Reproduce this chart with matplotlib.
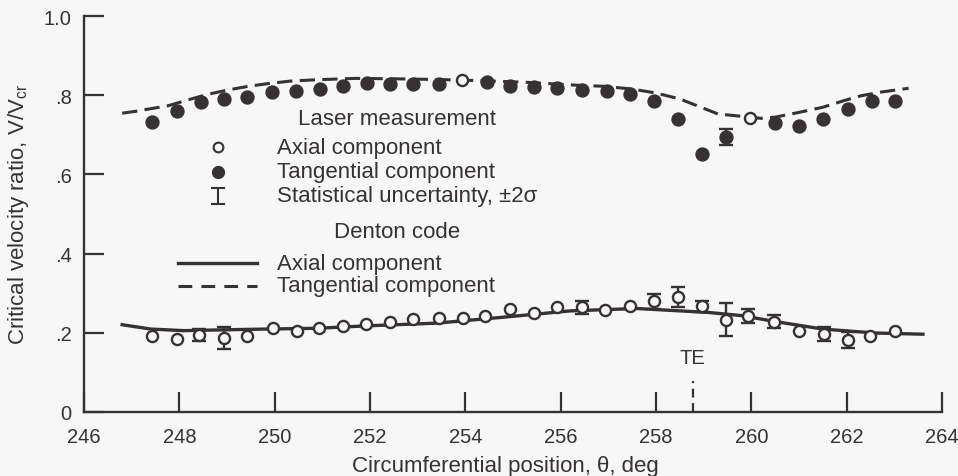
import matplotlib
matplotlib.use("Agg")
import matplotlib.pyplot as plt

plt.rcParams['font.family'] = ['Liberation Sans', 'DejaVu Sans']

INK = '#363233'
BG = '#f7f7f7'

# Laser measurement - tangential component (filled)
tan_x = [247.43, 247.96, 248.46, 248.94, 249.42, 249.94, 250.45, 250.95, 251.44, 251.93,
         252.42, 252.90, 253.44, 254.45, 254.94, 255.43, 255.92, 256.45, 256.97, 257.46,
         257.95, 258.47, 258.96, 259.47, 260.50, 260.99, 261.50, 262.03, 262.53, 263.02]
tan_y = [0.732, 0.761, 0.784, 0.791, 0.797, 0.808, 0.810, 0.816, 0.824, 0.831,
         0.829, 0.829, 0.829, 0.834, 0.824, 0.820, 0.818, 0.814, 0.810, 0.803,
         0.785, 0.740, 0.652, 0.694, 0.730, 0.722, 0.740, 0.766, 0.787, 0.787]
# tangential points drawn open
tan_open_x = [253.94, 259.98]
tan_open_y = [0.840, 0.743]
# tangential uncertainty
tan_err_x = [259.47]
tan_err_y = [0.694]
tan_err = [0.020]

# Laser measurement - axial component (open)
ax_x = [247.43, 247.95, 248.41, 248.94, 249.41, 249.96, 250.46, 250.93, 251.44, 251.92,
        252.42, 252.90, 253.44, 253.95, 254.42, 254.94, 255.44, 255.92, 256.45, 256.93,
        257.46, 257.96, 258.47, 258.96, 259.47, 259.94, 260.48, 260.99, 261.52, 262.02,
        262.48, 263.02]
ax_y = [0.192, 0.184, 0.194, 0.186, 0.191, 0.212, 0.205, 0.211, 0.216, 0.222,
        0.228, 0.234, 0.236, 0.236, 0.243, 0.260, 0.249, 0.264, 0.264, 0.258,
        0.268, 0.279, 0.290, 0.267, 0.233, 0.243, 0.228, 0.203, 0.196, 0.182,
        0.192, 0.203]
# axial uncertainty (x, y, +-)
ax_err_x = [248.41, 248.94, 256.45, 257.96, 258.47, 258.96, 259.47, 259.94, 260.48, 261.52, 262.02]
ax_err_y = [0.194, 0.186, 0.264, 0.279, 0.290, 0.267, 0.233, 0.243, 0.228, 0.196, 0.182]
ax_err = [0.015, 0.027, 0.016, 0.018, 0.026, 0.014, 0.042, 0.018, 0.017, 0.017, 0.020]

# Denton code - axial component
den_ax_x = [246.8, 247.4, 248.1, 248.9, 249.8, 250.9, 251.9, 253.4, 254.8, 256.2,
            257.6, 259.1, 259.8, 260.5, 261.5, 262.6, 263.6]
den_ax_y = [0.220, 0.209, 0.205, 0.207, 0.209, 0.211, 0.217, 0.224, 0.239, 0.255,
            0.261, 0.251, 0.243, 0.228, 0.209, 0.199, 0.196]

# Denton code - tangential component
den_tan_x = [246.8, 247.04, 247.77, 248.19, 248.61, 249.03, 249.45, 249.87, 250.32, 250.78,
             251.23, 251.69, 252.5, 253.5, 254.4, 255.3, 256.3, 256.9, 257.5, 258.0,
             258.5, 258.9, 259.3, 259.8, 260.2, 260.5, 261.0, 261.5, 261.95, 262.3,
             262.7, 263.3]
den_tan_y = [0.755, 0.759, 0.774, 0.789, 0.803, 0.814, 0.823, 0.830, 0.836, 0.839,
             0.841, 0.843, 0.842, 0.840, 0.837, 0.833, 0.826, 0.823, 0.816, 0.806,
             0.791, 0.772, 0.753, 0.747, 0.742, 0.745, 0.757, 0.770, 0.787, 0.799,
             0.808, 0.818]

x_ticks = [246, 248, 250, 252, 254, 256, 258, 260, 262, 264]
y_ticks = [0, 0.2, 0.4, 0.6, 0.8, 1.0]
y_ticklabels = ['0', '.2', '.4', '.6', '.8', '1.0']

te_x = 258.77

fig = plt.figure(figsize=(9.58, 4.77), dpi=100, facecolor=BG)
ax = fig.add_axes([0.0877, 0.1348, 0.8956, 0.8289], facecolor=BG)
ax.set_xlim(246, 264)
ax.set_ylim(0, 1.0)

for s in ['top', 'right']:
    ax.spines[s].set_visible(False)
for s in ['left', 'bottom']:
    ax.spines[s].set_color(INK)
    ax.spines[s].set_linewidth(1.7)

ax.set_xticks(x_ticks)
ax.set_xticklabels([str(t) for t in x_ticks])
ax.set_yticks(y_ticks)
ax.set_yticklabels(y_ticklabels)
ax.tick_params(axis='both', direction='in', length=14.5, width=1.6, color=INK,
               labelcolor=INK, labelsize=14.5)
ax.tick_params(axis='x', pad=11)
ax.tick_params(axis='y', pad=9)

ax.set_xlabel('Circumferential position, θ, deg', fontsize=16, color=INK)
ax.xaxis.set_label_coords(0.491, -0.11)
ax.set_ylabel(r'Critical velocity ratio, V/V$_{\mathregular{cr}}$', fontsize=16,
              color=INK, labelpad=9)

dash = (0, (5, 2.4))
# Denton lines
ax.plot(den_tan_x, den_tan_y, color=INK, lw=2.2, linestyle=dash, zorder=2)
ax.plot(den_ax_x, den_ax_y, color=INK, lw=2.4, zorder=2)

# error bars
ax.errorbar(ax_err_x, ax_err_y, yerr=ax_err, fmt='none', ecolor=INK, elinewidth=1.7,
            capsize=5, capthick=1.7, zorder=3)
ax.errorbar(tan_err_x, tan_err_y, yerr=tan_err, fmt='none', ecolor=INK, elinewidth=1.7,
            capsize=5, capthick=1.7, zorder=3)

# measurement points
ax.plot(tan_x, tan_y, 'o', color=INK, markersize=9.3, zorder=4)
ax.plot(tan_open_x, tan_open_y, 'o', markerfacecolor=BG, markeredgecolor=INK,
        markeredgewidth=1.7, markersize=8, zorder=4)
ax.plot(ax_x, ax_y, 'o', markerfacecolor=BG, markeredgecolor=INK,
        markeredgewidth=1.7, markersize=8, zorder=4)

# TE marker
ax.plot([te_x, te_x], [0.0, 0.078], color=INK, lw=1.6, linestyle=(0, (4, 2.5)))
ax.text(te_x, 0.136, 'TE', ha='center', va='center', fontsize=14.5, color=INK)

# legend (hand placed)
fs = 16
lx_mark = 248.81
lx_text = 250.05
ax.text(252.56, 0.742, 'Laser measurement', ha='center', va='center', fontsize=fs, color=INK)
ax.plot([lx_mark], [0.669], 'o', markerfacecolor=BG, markeredgecolor=INK,
        markeredgewidth=1.5, markersize=7)
ax.text(lx_text, 0.669, 'Axial component', ha='left', va='center', fontsize=fs, color=INK)
ax.plot([lx_mark], [0.607], 'o', color=INK, markersize=8.5)
ax.text(lx_text, 0.607, 'Tangential component', ha='left', va='center', fontsize=fs, color=INK)
ax.errorbar([lx_mark], [0.546], yerr=[0.021], fmt='none', ecolor=INK, elinewidth=1.5,
            capsize=5, capthick=1.5)
ax.text(lx_text, 0.546, 'Statistical uncertainty, ±2σ', ha='left', va='center',
        fontsize=fs, color=INK)
ax.text(252.56, 0.456, 'Denton code', ha='center', va='center', fontsize=fs, color=INK)
ax.plot([247.97, 249.63], [0.376, 0.376], color=INK, lw=2.4)
ax.text(lx_text, 0.376, 'Axial component', ha='left', va='center', fontsize=fs, color=INK)
ax.plot([247.97, 249.63], [0.319, 0.319], color=INK, lw=2.2, linestyle=(0, (4.5, 3)))
ax.text(lx_text, 0.319, 'Tangential component', ha='left', va='center', fontsize=fs, color=INK)

fig.savefig('out.png', dpi=100, facecolor=BG)
